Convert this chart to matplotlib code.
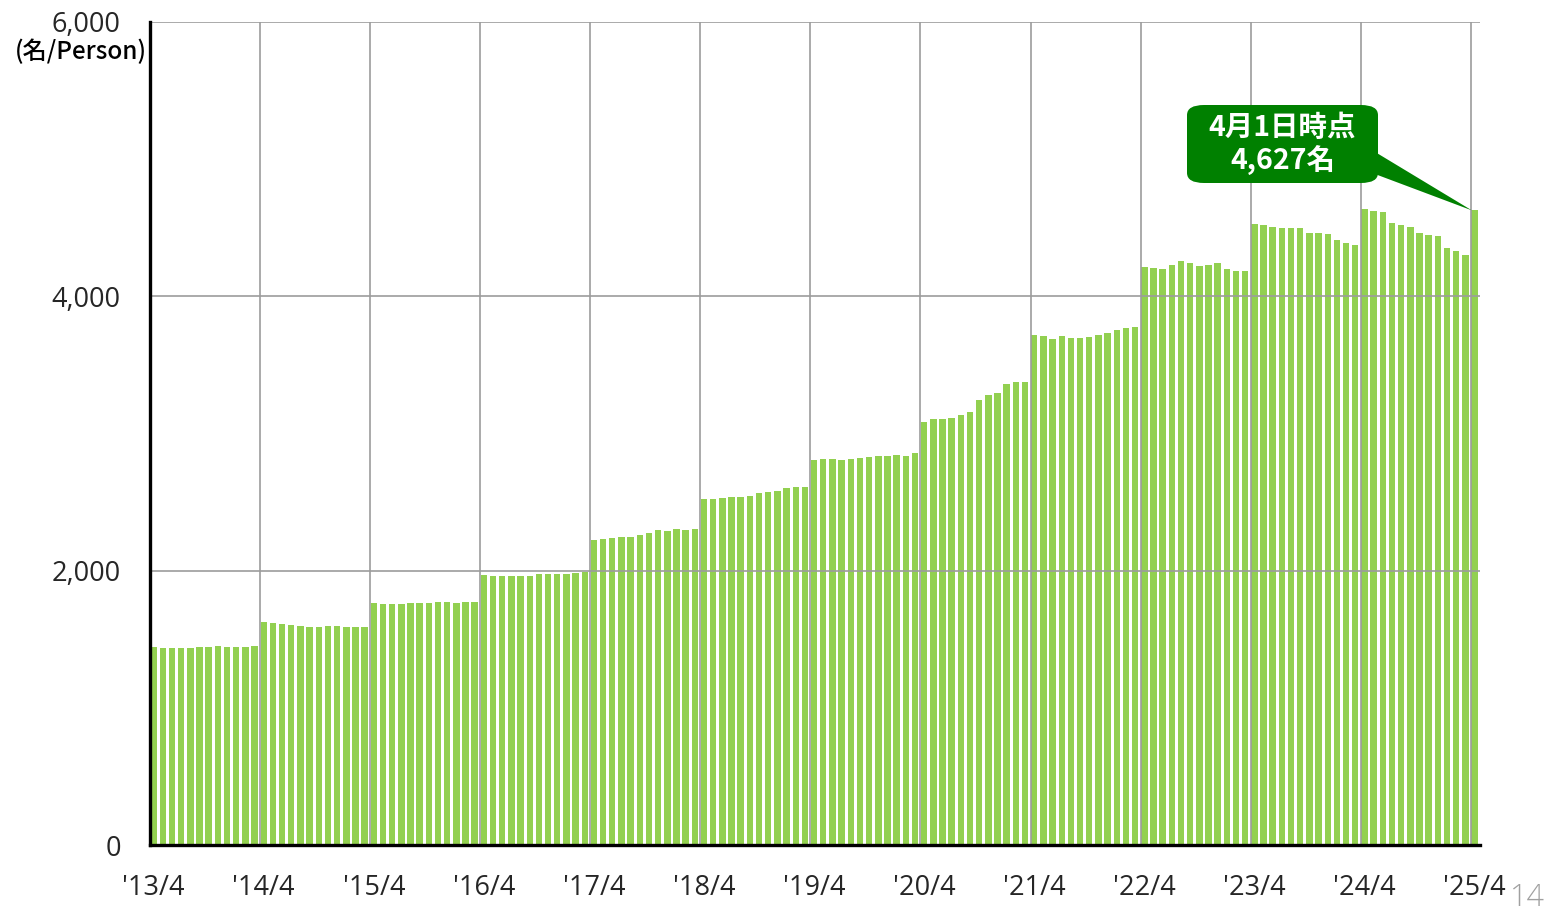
import matplotlib
matplotlib.use("Agg")
import matplotlib.pyplot as plt
from matplotlib.patches import FancyBboxPatch, Polygon

plt.rcParams['font.family'] = ['Open Sans', 'Noto Sans CJK JP', 'DejaVu Sans']

# Monthly headcount (persons), April 2013 -> April 2025, one list per fiscal year
fy2013 = [1441, 1434, 1434, 1434, 1434, 1441, 1441, 1451, 1441, 1441, 1441, 1451]
fy2014 = [1626, 1621, 1609, 1604, 1599, 1591, 1591, 1595, 1595, 1591, 1591, 1591]
fy2015 = [1762, 1757, 1757, 1757, 1762, 1767, 1767, 1772, 1772, 1767, 1772, 1774]
fy2016 = [1968, 1964, 1961, 1961, 1961, 1964, 1976, 1976, 1976, 1976, 1981, 1992]
fy2017 = [2224, 2229, 2241, 2243, 2248, 2260, 2277, 2296, 2289, 2301, 2296, 2301]
fy2018 = [2522, 2525, 2527, 2535, 2539, 2544, 2568, 2576, 2583, 2600, 2608, 2612]
fy2019 = [2805, 2815, 2812, 2805, 2812, 2822, 2830, 2836, 2836, 2843, 2838, 2855]
fy2020 = [3086, 3106, 3106, 3110, 3135, 3159, 3244, 3281, 3293, 3361, 3373, 3373]
fy2021 = [3718, 3713, 3689, 3711, 3699, 3699, 3706, 3718, 3730, 3754, 3771, 3779]
fy2022 = [4211, 4204, 4197, 4228, 4257, 4245, 4221, 4228, 4240, 4197, 4187, 4187]
fy2023 = [4525, 4520, 4503, 4496, 4496, 4496, 4464, 4459, 4454, 4411, 4386, 4374]
fy2024 = [4634, 4624, 4617, 4532, 4520, 4508, 4464, 4447, 4440, 4350, 4333, 4301]
fy2025 = [4627]

year_labels = ["'13/4", "'14/4", "'15/4", "'16/4", "'17/4", "'18/4", "'19/4",
               "'20/4", "'21/4", "'22/4", "'23/4", "'24/4", "'25/4"]
y_ticks = [0, 2000, 4000, 6000]
y_tick_labels = ["0", "2,000", "4,000", "6,000"]
unit_label = "(名/Person)"
callout_text = "4月1日時点\n4,627名"

values = (fy2013 + fy2014 + fy2015 + fy2016 + fy2017 + fy2018 + fy2019 +
          fy2020 + fy2021 + fy2022 + fy2023 + fy2024 + fy2025)
n = len(values)

W, H = 1546, 919
fig = plt.figure(figsize=(W / 100, H / 100), dpi=100)
ax = fig.add_axes([150 / W, 1 - 845 / H, 1330 / W, 823 / H])

xs = [i + 0.40 for i in range(n)]
ax.bar(xs, values, width=0.70, color='#92D050', linewidth=0, zorder=1)

ax.set_xlim(0, n)
ax.set_ylim(0, 6000)

# grid lines (drawn over bars)
grid_c = '#9c9c9c'
for yv in y_ticks[1:]:
    ax.axhline(yv, color=grid_c, lw=1.2, zorder=3)
for k in range(len(year_labels)):
    ax.axvline(12 * k, color=grid_c, lw=1.2, zorder=3)

ax.set_yticks(y_ticks)
ax.set_yticklabels(y_tick_labels)
ax.set_xticks([12 * k + 0.40 for k in range(len(year_labels))])
ax.set_xticklabels(year_labels)
ax.tick_params(axis='both', length=0, labelsize=19.5, labelcolor='#262626')
ax.tick_params(axis='y', pad=21)
ax.tick_params(axis='x', pad=21)

for s in ['top', 'right']:
    ax.spines[s].set_visible(False)
ax.spines['left'].set_color('black')
ax.spines['left'].set_linewidth(2.4)
ax.spines['bottom'].set_color('black')
ax.spines['bottom'].set_linewidth(2.4)
ax.spines['left'].set_zorder(4)
ax.spines['bottom'].set_zorder(4)

# unit label
fig.text(147 / W, 1 - 52 / H, unit_label, ha='right', va='center',
         fontsize=17.5, color='black', fontweight='medium',
         family=['Noto Sans CJK JP', 'DejaVu Sans'])

# callout
green = '#008000'
bx0, by0, bx1, by1 = 1187, 105, 1378, 183
box = FancyBboxPatch((bx0 / W, 1 - by1 / H), (bx1 - bx0) / W, (by1 - by0) / H,
                     boxstyle="round,pad=0,rounding_size=0.011",
                     transform=fig.transFigure, facecolor=green, edgecolor='none',
                     zorder=10)
fig.add_artist(box)
tip_disp = ax.transData.transform((n - 1 + 0.1, values[-1]))
tip_fig = fig.transFigure.inverted().transform(tip_disp)
tri = Polygon([(bx1 / W - 0.004, 1 - 150 / H), (bx1 / W - 0.002, 1 - 174 / H),
               (tip_fig[0], tip_fig[1])], closed=True, transform=fig.transFigure,
              facecolor=green, edgecolor='none', zorder=10)
fig.add_artist(tri)
fig.text((bx0 + bx1) / 2 / W, 1 - 145 / H, callout_text, ha='center', va='center',
         fontsize=20.5, fontweight='bold', color='white', linespacing=1.15,
         family=['Noto Sans CJK JP', 'DejaVu Sans'], zorder=11)

# page number
fig.text(1527 / W, 1 - 898 / H, "14", ha='center', va='center', fontsize=22,
         color='#a0a0a0', family=['Open Sans', 'DejaVu Sans'], fontweight='light')

fig.savefig('out.png', dpi=100, facecolor='white')
